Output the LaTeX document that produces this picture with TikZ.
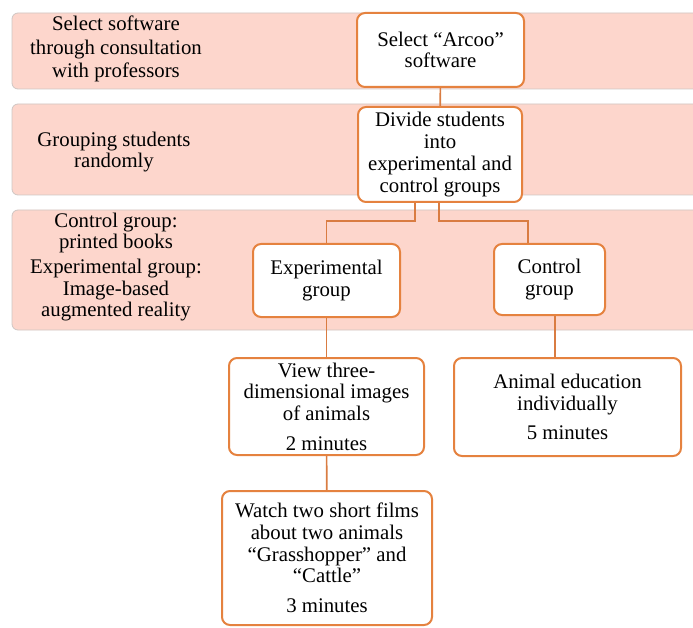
\documentclass[tikz,border=0pt]{standalone}
\usepackage{fontspec}
\setmainfont{Liberation Serif}
\definecolor{bandpink}{HTML}{FDD6CC}
\definecolor{bandline}{HTML}{CFC6C3}
\definecolor{boxorange}{HTML}{E5823F}
\definecolor{linkorange}{HTML}{D97C42}
\begin{document}
\begin{tikzpicture}[x=1pt,y=-1pt,
        band/.style={fill=bandpink,draw=bandline,line width=0.8pt,
            rounded corners=6pt},
        box/.style={draw=boxorange,fill=white,line width=2pt,
            rounded corners=8pt,align=center,inner sep=2pt},
        note/.style={align=center},
        link/.style={draw=linkorange,line width=1.6pt},
        font=\fontsize{20.8}{21.7}\selectfont]

\path[use as bounding box,clip] (0,0) rectangle (693,628);

\draw[band] (12,13) rectangle (712,89);
\draw[band] (12,104) rectangle (712,195);
\draw[band] (12,210) rectangle (712,330);

\node[note,font=\fontsize{20.8}{23.5}\selectfont] (consult) at (116,49) {Select software\\through consultation\\with professors};
\node[note] (random) at (114,152) {Grouping students\\randomly};
\node[note] (media) at (116,267) {Control group:\\printed books\\[3pt]Experimental group:\\Image-based\\augmented reality};

\node[box,minimum width=167pt,minimum height=74pt] (arcoo) at (440.5,50) {Select “Arcoo”\\software};
\node[box,minimum width=164pt,minimum height=95pt] (divide) at (440,154.5) {Divide students\\into\\experimental and\\control groups};
\node[box,minimum width=147pt,minimum height=73pt] (exp) at (326.5,280.5) {Experimental\\group};
\node[box,minimum width=111pt,minimum height=71pt] (ctrl) at (549.5,279.5) {Control\\group};
\node[box,minimum width=195pt,minimum height=97pt] (view) at (326.5,406.5) {View three-\\dimensional images\\of animals\\[8pt]2 minutes};
\node[box,minimum width=227pt,minimum height=98pt] (animal) at (567.5,407) {Animal education\\individually\\[8pt]5 minutes};
\node[box,minimum width=210pt,minimum height=134pt] (watch) at (327,558) {Watch two short films\\about two animals\\“Grasshopper” and\\“Cattle”\\[8pt]3 minutes};

\coordinate (split) at ([xshift=5.5pt]ctrl.south);

\draw[link] (arcoo) -- (divide);
\draw[link] ([xshift=-25pt]divide.south) -- ++(0,18) -| (exp.north);
\draw[link] ([xshift=-1pt]divide.south) -- ++(0,18) -| ([xshift=-21.5pt]ctrl.north);
\draw[link] (split) -- (split |- animal.north);
\draw[link] (exp) -- (view);
\draw[link] (view) -- (watch);
\end{tikzpicture}
\end{document}
